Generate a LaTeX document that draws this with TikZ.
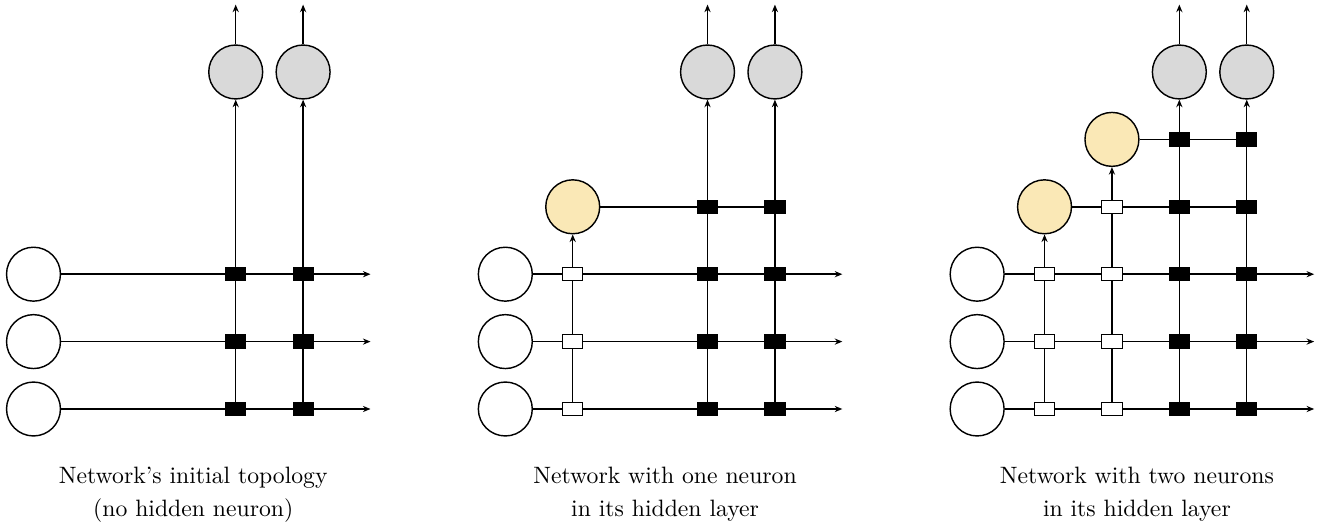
\documentclass[tikz,border=0pt]{standalone}
\usetikzlibrary{arrows.meta,backgrounds}
\definecolor{outfill}{RGB}{217,217,217}
\definecolor{hidfill}{RGB}{250,232,182}
\tikzset{
  neuron/.style={circle,draw,semithick,minimum size=0.8cm,inner sep=0pt},
  inneuron/.style={neuron,fill=white},
  outneuron/.style={neuron,fill=outfill},
  hidneuron/.style={neuron,fill=hidfill},
  weightbox/.style={rectangle,draw,thin,minimum width=0.3cm,minimum height=0.2cm,inner sep=0pt},
  outw/.style={weightbox,fill=black},
  hidw/.style={weightbox,fill=white},
  wire/.style={semithick},
  arr/.style={semithick,-{Stealth[length=3.2pt,width=2.6pt]}},
  captext/.style={anchor=base,font=\normalsize,inner sep=0pt}
}
\begin{document}
\begin{tikzpicture}
\useasboundingbox (-0.497,-1.662) rectangle (19.25,6.068);

% ---------- initial topology ----------
\begin{scope}
  \foreach \r in {0,1,2} {
    \node[inneuron] (a-in\r) at (0,\r) {};
    \coordinate (a-e\r) at (5,\r);
  }
  \foreach \c/\k in {3/1,4/2} {
    \node[outneuron] (a-out\k) at (\c,5) {};
    \coordinate (a-t\k) at (\c,6);
    \foreach \r in {0,1,2} \node[outw] (a-s\c\r) at (\c,\r) {};
  }
  \begin{scope}[on background layer]
    \foreach \r in {0,1,2} \draw[arr] (a-in\r) -- (a-e\r);
    \draw[arr] (a-s30) -- (a-out1);
    \draw[arr] (a-s40) -- (a-out2);
    \draw[arr] (a-out1) -- (a-t1);
    \draw[arr] (a-out2) -- (a-t2);
  \end{scope}
  \node[captext] (a-cap1) at (2.37,-1.10) {Network's initial topology};
  \node[captext] (a-cap2) at (2.37,-1.60) {(no hidden neuron)};
\end{scope}

% ---------- one hidden neuron ----------
\begin{scope}[xshift=7cm]
  \foreach \r in {0,1,2} {
    \node[inneuron] (b-in\r) at (0,\r) {};
    \coordinate (b-e\r) at (5,\r);
    \node[hidw] (b-s1\r) at (1,\r) {};
  }
  \node[hidneuron] (b-h1) at (1,3) {};
  \foreach \c/\k in {3/1,4/2} {
    \node[outneuron] (b-out\k) at (\c,5) {};
    \coordinate (b-t\k) at (\c,6);
    \foreach \r in {0,1,2,3} \node[outw] (b-s\c\r) at (\c,\r) {};
  }
  \begin{scope}[on background layer]
    \foreach \r in {0,1,2} \draw[arr] (b-in\r) -- (b-e\r);
    \draw[wire] (b-h1) -- (b-s43);
    \draw[arr] (b-s10) -- (b-h1);
    \draw[arr] (b-s30) -- (b-out1);
    \draw[arr] (b-s40) -- (b-out2);
    \draw[arr] (b-out1) -- (b-t1);
    \draw[arr] (b-out2) -- (b-t2);
  \end{scope}
  \node[captext] (b-cap1) at (2.37,-1.10) {Network with one neuron};
  \node[captext] (b-cap2) at (2.37,-1.60) {in its hidden layer};
\end{scope}

% ---------- two hidden neurons ----------
\begin{scope}[xshift=14cm]
  \foreach \r in {0,1,2} {
    \node[inneuron] (c-in\r) at (0,\r) {};
    \coordinate (c-e\r) at (5,\r);
    \node[hidw] (c-s1\r) at (1,\r) {};
  }
  \foreach \r in {0,1,2,3} \node[hidw] (c-s2\r) at (2,\r) {};
  \node[hidneuron] (c-h1) at (1,3) {};
  \node[hidneuron] (c-h2) at (2,4) {};
  \foreach \c/\k in {3/1,4/2} {
    \node[outneuron] (c-out\k) at (\c,5) {};
    \coordinate (c-t\k) at (\c,6);
    \foreach \r in {0,1,2,3,4} \node[outw] (c-s\c\r) at (\c,\r) {};
  }
  \begin{scope}[on background layer]
    \foreach \r in {0,1,2} \draw[arr] (c-in\r) -- (c-e\r);
    \draw[wire] (c-h1) -- (c-s43);
    \draw[wire] (c-h2) -- (c-s44);
    \draw[arr] (c-s10) -- (c-h1);
    \draw[arr] (c-s20) -- (c-h2);
    \draw[arr] (c-s30) -- (c-out1);
    \draw[arr] (c-s40) -- (c-out2);
    \draw[arr] (c-out1) -- (c-t1);
    \draw[arr] (c-out2) -- (c-t2);
  \end{scope}
  \node[captext] (c-cap1) at (2.37,-1.10) {Network with two neurons};
  \node[captext] (c-cap2) at (2.37,-1.60) {in its hidden layer};
\end{scope}
\end{tikzpicture}
\end{document}
